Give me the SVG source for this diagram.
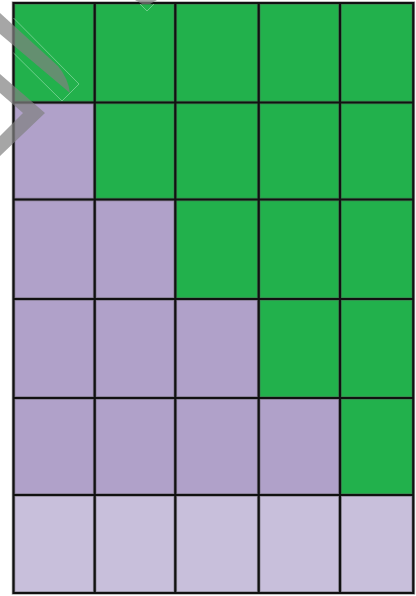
<svg xmlns="http://www.w3.org/2000/svg" width="416" height="596" viewBox="0 0 416 596">
<style>
.g{fill:#22b14c}
.p{fill:#b0a1c9}
.l{fill:#c8bfdb}
.grid{stroke:#111;stroke-width:2.2;fill:none}
.halo{stroke:#555;stroke-opacity:0.5;stroke-width:3.6;fill:none}
.shade{fill:#808080;fill-opacity:0.7}
.thin{stroke:#9fe0b4;stroke-width:0.6;fill:none}
</style>
<rect width="416" height="596" fill="#ffffff"/>
<g id="cells">
<rect class="g" x="13.5" y="3" width="81.2" height="99.5"/>
<rect class="g" x="94.7" y="3" width="80.6" height="99.5"/>
<rect class="g" x="175.3" y="3" width="83.4" height="99.5"/>
<rect class="g" x="258.7" y="3" width="81.3" height="99.5"/>
<rect class="g" x="340" y="3" width="73.3" height="99.5"/>
<rect class="p" x="13.5" y="102.5" width="81.2" height="97"/>
<rect class="g" x="94.7" y="102.5" width="318.6" height="97"/>
<rect class="p" x="13.5" y="199.5" width="161.8" height="99.5"/>
<rect class="g" x="175.3" y="199.5" width="238" height="99.5"/>
<rect class="p" x="13.5" y="299" width="245.2" height="99"/>
<rect class="g" x="258.7" y="299" width="154.6" height="99"/>
<rect class="p" x="13.5" y="398" width="326.5" height="97"/>
<rect class="g" x="340" y="398" width="73.3" height="97"/>
<rect class="l" x="13.5" y="495" width="399.8" height="98"/>
</g>
<g id="gridlines">
<path class="halo" d="M13.5,3H413.3V593H13.5Z M94.7,3V593 M175.3,3V593 M258.7,3V593 M340,3V593 M13.5,102.5H413.3 M13.5,199.5H413.3 M13.5,299H413.3 M13.5,398H413.3 M13.5,495H413.3"/>
<path class="grid" d="M13.5,3H413.3V593H13.5Z M94.7,3V593 M175.3,3V593 M258.7,3V593 M340,3V593 M13.5,102.5H413.3 M13.5,199.5H413.3 M13.5,299H413.3 M13.5,398H413.3 M13.5,495H413.3"/>
</g>
<g id="overlay">
<path class="shade" d="M0,13 L58,66 Q68,78 70,93 L0,34 Z"/>
<path class="shade" d="M0,74 L45,113 L0,156 L0,136 L23,113 L0,93 Z"/>
<path class="shade" d="M135,0 L157,0 L150,4 L142,4 Z"/>
<path class="thin" d="M13.5,18 L79,84 L62,101 L13.5,53"/>
<path class="thin" d="M140,4 L147,11 L154,4"/>
</g>
</svg>
